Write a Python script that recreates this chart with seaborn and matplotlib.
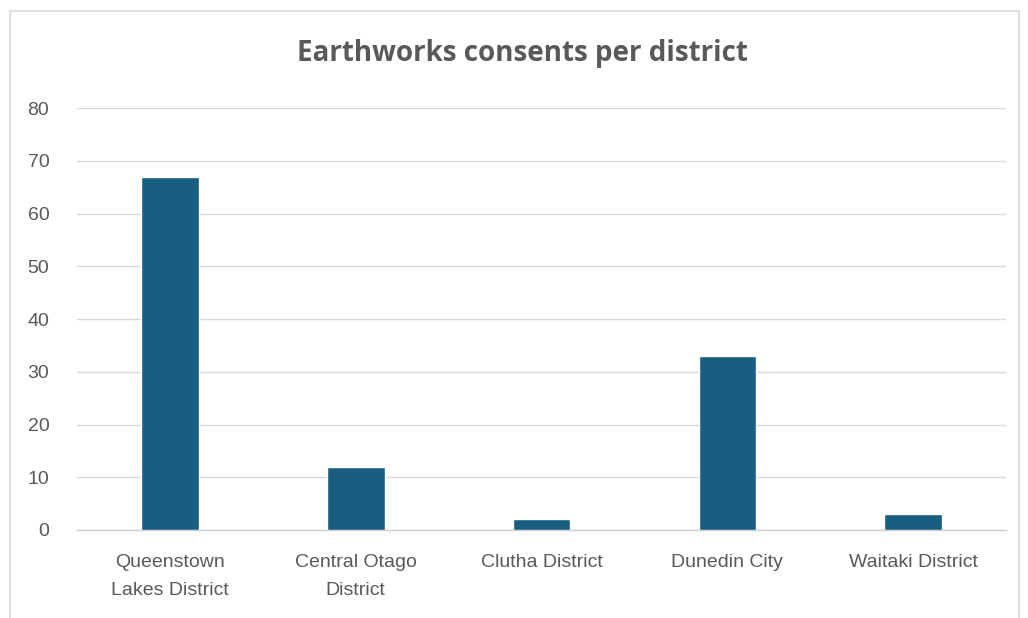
import matplotlib
matplotlib.use('Agg')
import matplotlib.pyplot as plt
import seaborn as sns
from matplotlib.patches import Rectangle

districts = ['Queenstown\nLakes District', 'Central Otago\nDistrict', 'Clutha District',
             'Dunedin City', 'Waitaki District']
consents = [67, 12, 2, 33, 3]
yticks = [0, 10, 20, 30, 40, 50, 60, 70, 80]

sns.set_style('white')
plt.rcParams['font.family'] = ['Liberation Sans', 'DejaVu Sans']

fig = plt.figure(figsize=(10.28, 6.18), dpi=100)
ax = fig.add_axes([0.075, 0.1424, 0.9036, 0.6826])

sns.barplot(x=districts, y=consents, color='#175e80', width=0.31,
            saturation=1, ax=ax, zorder=3)

ax.set_ylim(0, 80)
ax.set_yticks(yticks)
ax.set_xlim(-0.5, 4.5)
ax.grid(axis='y', color='#d9d9d9', linewidth=1, zorder=0)
for s in ['left', 'right', 'top']:
    ax.spines[s].set_visible(False)
ax.spines['bottom'].set_color('#d0d0d0')
ax.spines['bottom'].set_linewidth(1)
ax.tick_params(axis='y', length=0, pad=20, labelsize=14, labelcolor='#595959')
ax.tick_params(axis='x', length=0, pad=17, labelsize=14, labelcolor='#595959')
for t in ax.get_xticklabels():
    t.set_linespacing(1.9)
ax.set_xlabel('')
ax.set_ylabel('')

fig.text(0.508, 0.913, 'Earthworks consents per district', ha='center', va='center',
         fontsize=20, fontweight='bold', color='#595959', family=['Open Sans', 'DejaVu Sans'])

# outer chart frame
fig.patches.append(Rectangle((0.0095, -0.01), 0.982, 0.993, transform=fig.transFigure,
                             fill=False, edgecolor='#d9d9d9', linewidth=1.2))

fig.savefig('out.png', dpi=100)
